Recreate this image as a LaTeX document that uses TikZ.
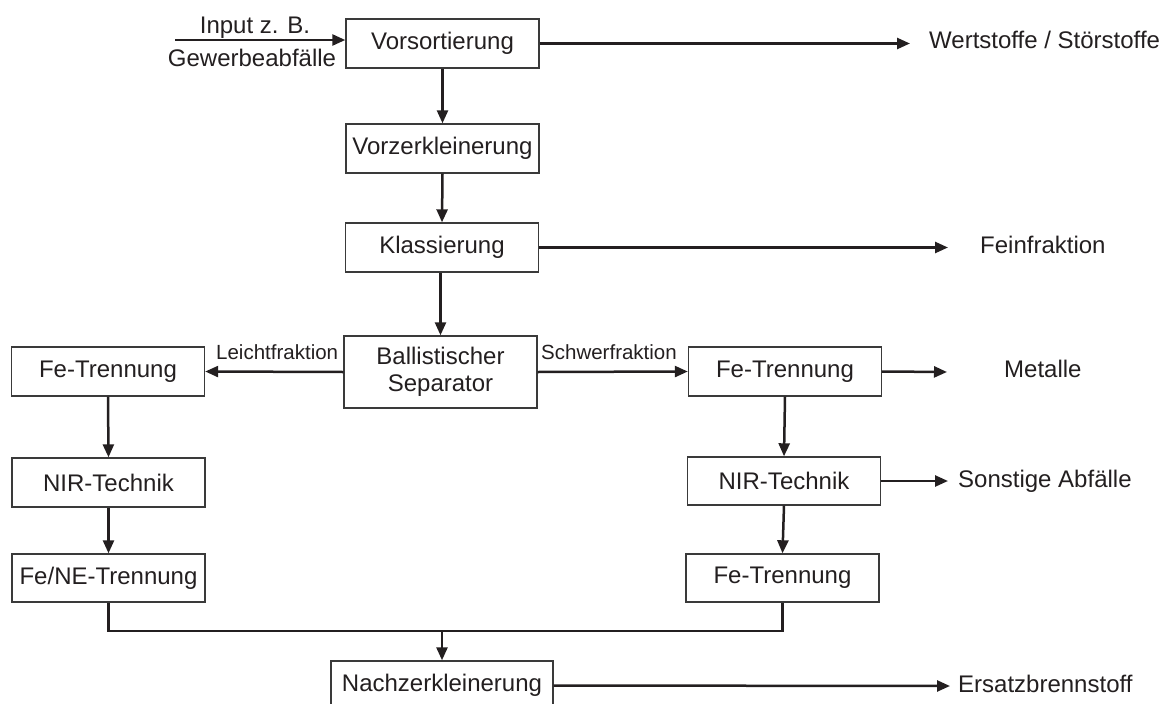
\documentclass[tikz,border=0pt]{standalone}
\usepackage{fontspec}
\setmainfont{Liberation Sans}
\usetikzlibrary{arrows.meta}
\definecolor{ink}{HTML}{231F20}
\definecolor{frame}{HTML}{3A3A3A}
\begin{document}
\begin{tikzpicture}[x=1pt,y=-1pt,
  proc/.style={draw=frame,line width=1.4pt,minimum width=193pt,minimum height=49pt,
    inner sep=0pt,text=ink,font=\fontsize{24}{27}\selectfont,align=center},
  flow/.style={draw=ink,line width=2.5pt,-{Triangle[length=13pt,width=11pt]}},
  line/.style={draw=ink,line width=2.5pt},
  outtxt/.style={anchor=base west,inner sep=0pt,text=ink,font=\fontsize{24}{27}\selectfont},
  lbl/.style={anchor=base west,inner sep=0pt,text=ink,font=\fontsize{20.5}{24}\selectfont}]
\useasboundingbox (0,0) rectangle (1165,704);
\clip (0,0) rectangle (1165,704);

% process boxes
\node[proc] (vors) at (442.5,43.5) {Vorsortierung};
\node[proc] (vorz) at (442.5,148.5) {Vorzerkleinerung};
\node[proc] (klas) at (442,247.5) {Klassierung};
\node[proc,minimum height=72pt] (ball) at (440.5,372) {Ballistischer\\Separator};
\node[proc] (feL) at (108,371.5) {Fe-Trennung};
\node[proc] (nirL) at (108.5,482.5) {NIR-Technik};
\node[proc,minimum height=48pt] (fneL) at (108.5,578) {Fe/NE-Trennung};
\node[proc] (feR) at (785,371.5) {Fe-Trennung};
\node[proc,minimum height=48pt] (nirR) at (784,481) {NIR-Technik};
\node[proc,minimum height=48pt] (feR2) at (782.5,578) {Fe-Trennung};
\node[proc,minimum width=222pt] (nach) at (442,685.5) {Nachzerkleinerung};

% input
\node[anchor=base,inner sep=0pt,text=ink,font=\fontsize{24}{27}\selectfont] (inp1) at (255,33) {Input z. B.};
\node[anchor=base,inner sep=0pt,text=ink,font=\fontsize{24}{27}\selectfont] (inp2) at (252,66) {Gewerbeabfälle};
\coordinate (src) at (175,40);
\draw[flow] (src) -- (src -| vors.west);

% output texts
\node[outtxt] (wert) at (929,48) {Wertstoffe / Störstoffe};
\node[outtxt] (fein) at (980,253) {Feinfraktion};
\node[outtxt] (met) at (1004,377) {Metalle};
\node[outtxt] (sonst) at (958,487) {Sonstige Abfälle};
\node[outtxt] (ebs) at (958,692) {Ersatzbrennstoff};

\coordinate (wertE) at (910,43.5);
\coordinate (feinE) at (948,247.5);
\coordinate (metE) at (947,372);
\coordinate (sonstE) at (948,481);
\coordinate (ebsE) at (950,686);

% main line
\draw[flow] (vors.east) -- (wertE);
\draw[flow] (vors.south) -- (vorz.north);
\draw[flow] (vorz.south) -- (klas.north);
\draw[flow] (klas.east) -- (feinE);
\draw[flow] (klas.south -| ball.north) -- (ball.north);

% ballistic split
\draw[flow] (ball.west) -- (feL.east);
\draw[flow] (ball.east) -- (feR.west);
\node[lbl] (leicht) at (216,359) {Leichtfraktion};
\node[lbl] (schwer) at (541,359) {Schwerfraktion};

% light fraction branch
\draw[flow] (feL.south) -- (nirL.north);
\draw[flow] (nirL.south) -- (fneL.north);

% heavy fraction branch
\draw[flow] (feR.east) -- (metE);
\draw[flow] (feR.south) -- (nirR.north);
\draw[flow] (nirR.east) -- (sonstE);
\draw[flow] (nirR.south) -- (feR2.north);

% merge to secondary shredding
\coordinate (merge) at (442,631);
\draw[line] (fneL.south) |- (merge);
\draw[line] (feR2.south) |- (merge);
\draw[flow] (merge) -- (nach.north);
\draw[flow] (nach.east) -- (ebsE);
\end{tikzpicture}
\end{document}
